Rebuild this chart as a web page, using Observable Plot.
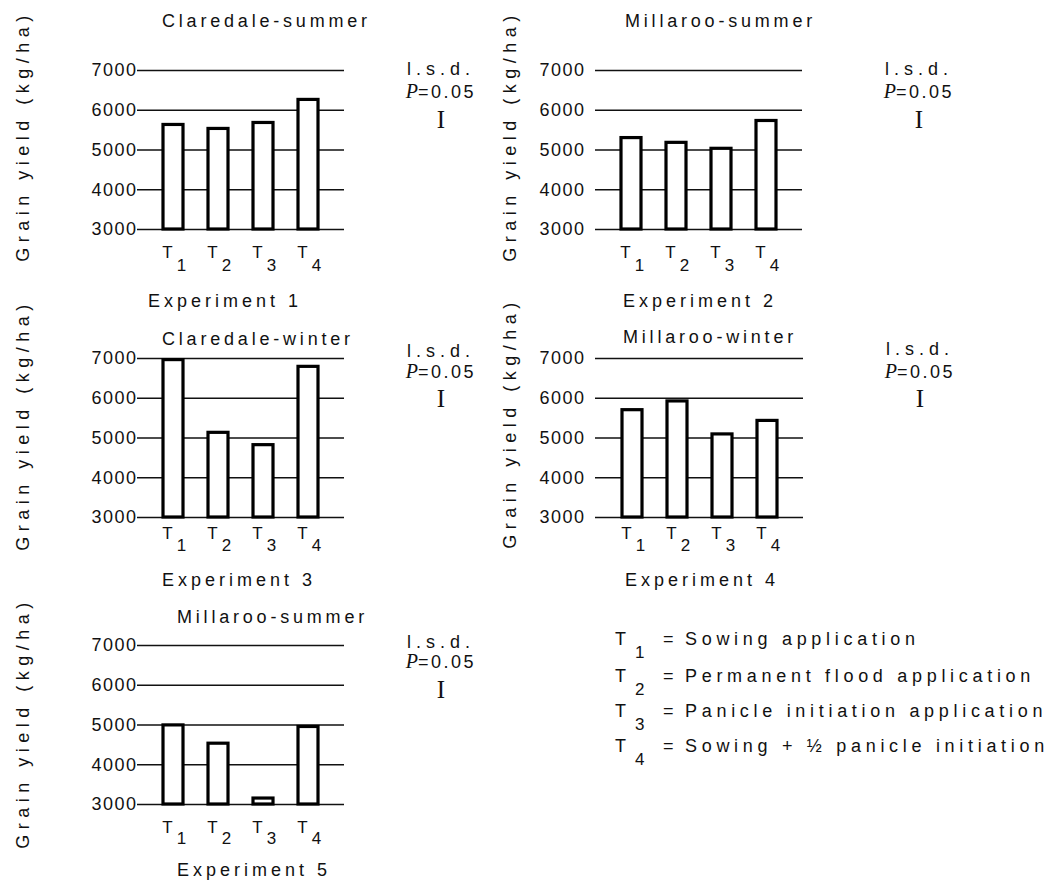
<!DOCTYPE html>
<html>
<head>
<meta charset="utf-8">
<script src="https://cdn.jsdelivr.net/npm/d3@7"></script>
<script src="https://cdn.jsdelivr.net/npm/@observablehq/plot@0.6"></script>
<style>
  html, body { margin: 0; padding: 0; background: white; }
  #wrap { position: relative; width: 1056px; height: 882px; background: white; overflow: hidden; font-family: "Liberation Sans", Arial, sans-serif; }
</style>
</head>
<body>
<div id="wrap"></div>
<script>
// ---------------- data ----------------
const treatments = ["T1", "T2", "T3", "T4"];
const yTicks = [3000, 4000, 5000, 6000, 7000];
const siteNames = ["Claredale-summer", "Millaroo-summer", "Claredale-winter", "Millaroo-winter", "Millaroo-summer"];
const experimentNames = ["Experiment 1", "Experiment 2", "Experiment 3", "Experiment 4", "Experiment 5"];
const yieldExp1 = [5630, 5530, 5680, 6260];
const yieldExp2 = [5300, 5180, 5030, 5730];
const yieldExp3 = [6960, 5130, 4820, 6790];
const yieldExp4 = [5700, 5920, 5090, 5430];
const yieldExp5 = [4990, 4530, 3150, 4950];
const yAxisLabel = "Grain yield (kg/ha)";
const lsdLine1 = "l.s.d.";
const lsdP = "P";
const lsdLine2 = "=0.05";
const lsdGlyph = "I";
const legendCodes = ["1", "2", "3", "4"];
const legendTexts = ["Sowing application", "Permanent flood application", "Panicle initiation application", "Sowing + \u00BD panicle initiation"];

// ---------------- layout ----------------
const yields = [yieldExp1, yieldExp2, yieldExp3, yieldExp4, yieldExp5];
const panels = [
  {left: 0,   top: 40,  ml: 137, mr: 136, tp: 0,  tDy: 28, sDy: 41, titleX: 162, titleY: 27,  expX: 148, expY: 307, lsdX: 441, lsdY: [75, 98, 128],  ylX: 29,  ylY: 136},
  {left: 480, top: 40,  ml: 115, mr: 158, tp: 10, tDy: 28, sDy: 41, titleX: 625, titleY: 27,  expX: 623, expY: 307, lsdX: 919, lsdY: [75, 98, 128],  ylX: 516, ylY: 136},
  {left: 0,   top: 328, ml: 137, mr: 136, tp: 0,  tDy: 21, sDy: 33, titleX: 162, titleY: 345, expX: 162, expY: 586, lsdX: 441, lsdY: [357, 378, 407], ylX: 29,  ylY: 425},
  {left: 480, top: 328, ml: 115, mr: 157, tp: 10, tDy: 21, sDy: 33, titleX: 623, titleY: 343, expX: 625, expY: 586, lsdX: 920, lsdY: [355, 378, 407], ylX: 516, ylY: 423},
  {left: 0,   top: 615, ml: 137, mr: 136, tp: 0,  tDy: 28, sDy: 39, titleX: 177, titleY: 623, expX: 177, expY: 876, lsdX: 441, lsdY: [648, 668, 698], ylX: 29,  ylY: 723}
];

const wrap = document.getElementById("wrap");

panels.forEach((p, i) => {
  const data = treatments.map((t, j) => ({t, v: yields[i][j]}));
  const chart = Plot.plot({
    width: 480,
    height: 250,
    marginTop: 30,
    marginBottom: 61,
    marginLeft: p.ml,
    marginRight: p.mr,
    style: {
      position: "absolute", left: p.left + "px", top: p.top + "px",
      background: "transparent", overflow: "visible", maxWidth: "none",
      fontFamily: "Liberation Sans, Arial, sans-serif", color: "black"
    },
    x: {domain: treatments, paddingInner: 0.56, paddingOuter: 0.555, axis: null},
    y: {domain: [yTicks[0], yTicks[yTicks.length - 1]], axis: null},
    marks: [
      Plot.ruleY(yTicks, {stroke: "#111", strokeWidth: 1.4}),
      Plot.axisY(yTicks, {tickSize: 0, tickPadding: p.tp, fontSize: 18, fill: "#111", label: null, tickFormat: d => String(d)}),
      Plot.barY(data, {x: "t", y1: () => yTicks[0], y2: "v", fill: "white", stroke: "black", strokeWidth: 3.2}),
      Plot.text(data, {x: "t", y: () => yTicks[0], text: d => d.t.slice(0, 1), lineAnchor: "bottom", dx: -6, dy: p.tDy, fontSize: 17, fill: "#111"}),
      Plot.text(data, {x: "t", y: () => yTicks[0], text: d => d.t.slice(1), lineAnchor: "bottom", dx: 8, dy: p.sDy, fontSize: 17, fill: "#111"})
    ]
  });
  chart.querySelectorAll("g[aria-label='y-axis tick label'] text").forEach(t => t.style.letterSpacing = "1.5px");
  wrap.appendChild(chart);
});

// ---------------- overlay text ----------------
const svg = d3.select(wrap).append("svg")
  .attr("width", 1056).attr("height", 882)
  .style("position", "absolute").style("left", "0px").style("top", "0px")
  .style("pointer-events", "none")
  .style("font-family", "Liberation Sans, Arial, sans-serif")
  .attr("fill", "#111");

panels.forEach((p, i) => {
  svg.append("text").attr("x", p.titleX).attr("y", p.titleY)
    .attr("font-size", 18).style("letter-spacing", "3.8px").text(siteNames[i]);
  svg.append("text").attr("x", p.expX).attr("y", p.expY)
    .attr("font-size", 18).style("letter-spacing", "4px").text(experimentNames[i]);
  svg.append("text").attr("transform", `translate(${p.ylX},${p.ylY}) rotate(-90)`)
    .attr("text-anchor", "middle").attr("font-size", 18).style("letter-spacing", "5.5px").text(yAxisLabel);
  svg.append("text").attr("x", p.lsdX).attr("y", p.lsdY[0]).attr("text-anchor", "middle")
    .attr("font-size", 18).style("letter-spacing", "5px").text(lsdLine1);
  const t2 = svg.append("text").attr("x", p.lsdX).attr("y", p.lsdY[1]).attr("text-anchor", "middle").attr("font-size", 18);
  t2.append("tspan").attr("font-family", "Liberation Serif, serif").attr("font-style", "italic").attr("font-size", 20).text(lsdP);
  t2.append("tspan").style("letter-spacing", "2.5px").text(lsdLine2);
  svg.append("text").attr("x", p.lsdX).attr("y", p.lsdY[2]).attr("text-anchor", "middle")
    .attr("font-family", "Liberation Serif, serif").attr("font-size", 25).text(lsdGlyph);
});

// legend
const legY = [645, 682, 717, 752];
legendCodes.forEach((c, i) => {
  svg.append("text").attr("x", 615).attr("y", legY[i]).attr("font-size", 18).text("T");
  svg.append("text").attr("x", 635).attr("y", legY[i] + 13).attr("font-size", 17).text(c);
  svg.append("text").attr("x", 663).attr("y", legY[i]).attr("font-size", 18).text("=");
  svg.append("text").attr("x", 685).attr("y", legY[i]).attr("font-size", 18).style("letter-spacing", "4.7px").text(legendTexts[i]);
});
</script>
</body>
</html>
